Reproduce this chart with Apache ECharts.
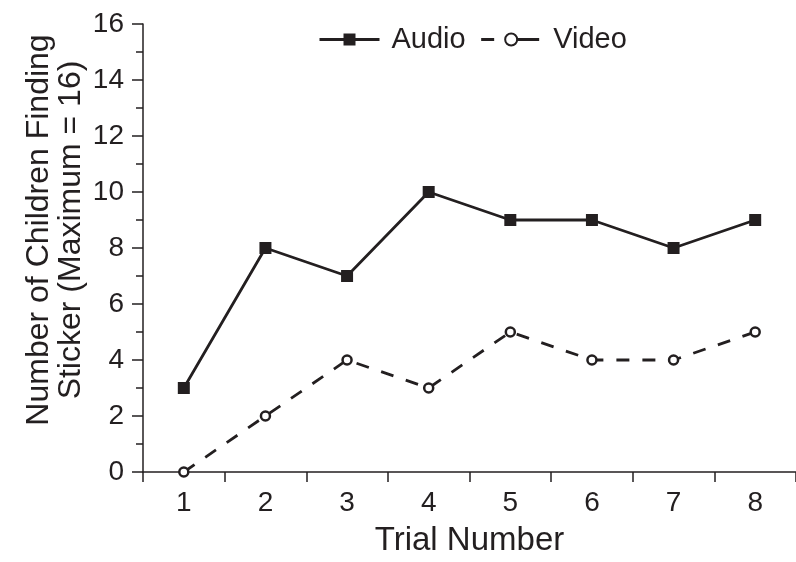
<!DOCTYPE html>
<html>
<head>
<meta charset="utf-8">
<script src="https://cdn.jsdelivr.net/npm/echarts@6/dist/echarts.min.js"></script>
<style>html,body{margin:0;padding:0;background:#fff}#c{width:796px;height:562px}</style>
</head>
<body>
<div id="c"></div>
<script>
const trials = ['1', '2', '3', '4', '5', '6', '7', '8'];
const audio = [3, 8, 7, 10, 9, 9, 8, 9];
const video = [0, 2, 4, 3, 5, 4, 4, 5];
const yTicks = { min: 0, max: 16, interval: 2 };

const INK = '#231f20';
const FONT = '"Liberation Sans", Arial, Helvetica, sans-serif';

const chart = echarts.init(document.getElementById('c'), null, { renderer: 'canvas' });
chart.setOption({
  animation: false,
  backgroundColor: '#fff',
  textStyle: { fontFamily: FONT, color: INK },
  grid: { left: 143, top: 24, right: -8, bottom: 90, containLabel: false },
  legend: {
    left: 318, top: 25, padding: 0,
    itemWidth: 60, itemHeight: 15, itemGap: 14,
    lineStyle: { width: 3 },
    textStyle: { fontFamily: FONT, fontSize: 29, color: INK, padding: [0, 0, 0, 7] },
    data: [
      { name: 'Audio' },
      { name: 'Video', lineStyle: { type: [13, 22, 23, 10] } }
    ]
  },
  xAxis: {
    type: 'category',
    data: trials,
    boundaryGap: true,
    name: 'Trial Number',
    nameLocation: 'middle',
    nameGap: 52,
    nameMoveOverlap: false,
    nameTextStyle: { fontFamily: FONT, fontSize: 33, color: INK },
    axisLine: { lineStyle: { color: INK, width: 1.5 } },
    axisTick: { show: true, interval: 0, length: 10, lineStyle: { color: INK, width: 1.5 } },
    axisLabel: { fontFamily: FONT, fontSize: 28, color: INK, margin: 17 },
    splitLine: { show: false }
  },
  yAxis: {
    type: 'value',
    min: yTicks.min, max: yTicks.max, interval: yTicks.interval,
    name: 'Number of Children Finding\nSticker (Maximum = 16)',
    nameLocation: 'middle',
    nameRotate: 90,
    nameGap: 56,
    nameMoveOverlap: false,
    nameTextStyle: { fontFamily: FONT, fontSize: 32, color: INK, lineHeight: 32, align: 'center', padding: [0, 0, 0, 36] },
    axisLine: { show: true, lineStyle: { color: INK, width: 1.5 } },
    axisTick: { show: true, length: 11, lineStyle: { color: INK, width: 1.5 } },
    minorTick: { show: true, splitNumber: 2, length: 7, lineStyle: { color: INK, width: 1.5 } },
    axisLabel: { fontFamily: FONT, fontSize: 28, color: INK, margin: 19 },
    splitLine: { show: false }
  },
  series: [
    {
      name: 'Audio', type: 'line', data: audio,
      symbol: 'rect', symbolSize: 12,
      lineStyle: { color: INK, width: 2.8 },
      itemStyle: { color: INK }
    },
    {
      name: 'Video', type: 'line', data: video,
      symbol: 'circle', symbolSize: 9,
      lineStyle: { color: INK, width: 2.8, type: [13, 13] },
      itemStyle: { color: '#fff', borderColor: INK, borderWidth: 2.5 }
    }
  ]
});
</script>
</body>
</html>
